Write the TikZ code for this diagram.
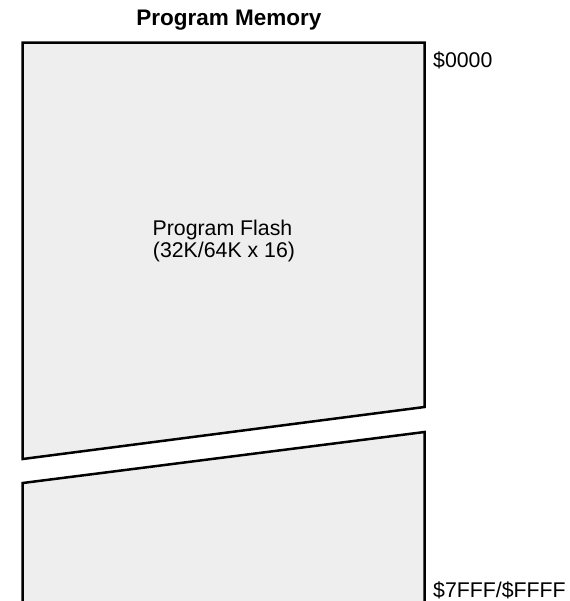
\documentclass[tikz,border=0pt]{standalone}
\usepackage{fontspec}
\setmainfont{Liberation Sans}
\definecolor{memfill}{HTML}{EEEEEE}
\tikzset{
  memblock/.style={draw=black, fill=memfill, line width=2.5pt, line join=miter},
  lbl/.style={inner sep=0pt, anchor=base, font=\fontsize{21.3}{24}\selectfont},
}
\begin{document}
\begin{tikzpicture}[x=1pt,y=-1pt]
\useasboundingbox (0,0) rectangle (569,601);
% upper part
\draw[memblock] (22.7,459) -- (22.7,42.7) -- (424.5,42.7) -- (424.5,407) -- cycle;
% lower part
\draw[memblock] (22.7,604) -- (22.7,483) -- (424.5,432) -- (424.5,604);
\node[lbl, font=\fontsize{22.5}{26}\selectfont\bfseries] (title) at (229,26) {Program Memory};
\node[lbl] (flash) at (222.5,236) {Program Flash};
\node[lbl] (flashsize) at (224,257) {(32K/64K x 16)};
\node[lbl, anchor=base west] (start) at (433,68) {\$0000};
\node[lbl, anchor=base west] (end) at (433,597) {\$7FFF/\$FFFF};
\end{tikzpicture}
\end{document}
